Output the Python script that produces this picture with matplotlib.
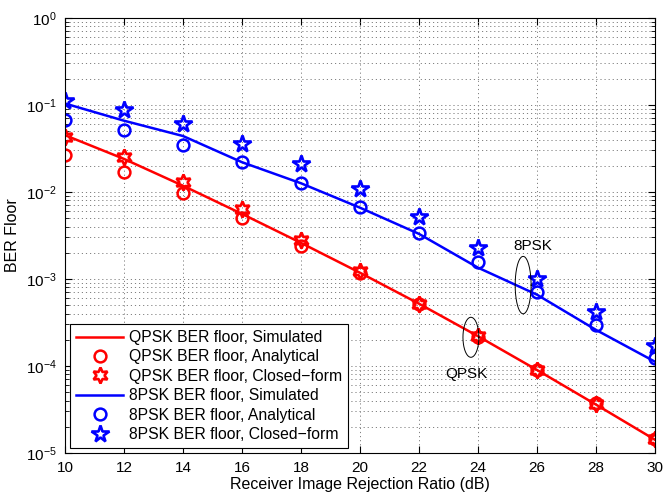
import numpy as np
import matplotlib
matplotlib.use('Agg')
import matplotlib.pyplot as plt
from matplotlib.ticker import LogLocator, NullFormatter

plt.rcParams['font.family'] = ['Liberation Sans', 'DejaVu Sans']

irr = [10, 12, 14, 16, 18, 20, 22, 24, 26, 28, 30]  # dB

qpsk_sim = [0.045, 0.024, 0.0118, 0.0056, 0.0026, 0.00118, 0.00052, 0.00022, 9.0e-5, 3.6e-5, 1.42e-5]
qpsk_ana = [0.0265, 0.017, 0.0098, 0.0050, 0.0024, 0.00118, 0.00051, 0.000215, 8.9e-5, 3.8e-5, 1.43e-5]
qpsk_cf = [0.043, 0.025, 0.013, 0.0063, 0.0028, 0.00122, 0.00051, 0.00022, 9.0e-5, 3.7e-5, 1.45e-5]

psk8_sim = [0.104, 0.066, 0.044, 0.022, 0.0126, 0.0066, 0.0033, 0.00135, 0.00066, 0.00026, 0.000112]
psk8_ana = [0.068, 0.051, 0.035, 0.022, 0.0126, 0.0068, 0.0034, 0.00158, 0.0007, 0.000295, 0.000123]
psk8_cf = [0.112, 0.087, 0.060, 0.036, 0.021, 0.0107, 0.0052, 0.0023, 0.0010, 0.00042, 0.00017]

hexagram = (6, 1, 0)

fig = plt.figure(figsize=(6.69, 4.95), dpi=100)
ax = fig.add_axes([65 / 669, 1 - 453 / 495, 590 / 669, 435 / 495])

ax.semilogy(irr, qpsk_sim, '-', color='red', lw=1.8, label='QPSK BER floor, Simulated')
ax.semilogy(irr, qpsk_ana, 'o', color='red', mfc='none', mew=1.8, ms=8.5, label='QPSK BER floor, Analytical')
ax.semilogy(irr, qpsk_cf, marker=hexagram, ls='none', color='red', mfc='none', mew=1.9, ms=11.5,
            label='QPSK BER floor, Closed\u2212form')
ax.semilogy(irr, psk8_sim, '-', color='blue', lw=1.8, label='8PSK BER floor, Simulated')
ax.semilogy(irr, psk8_ana, 'o', color='blue', mfc='none', mew=1.8, ms=8.5, label='8PSK BER floor, Analytical')
ax.semilogy(irr, psk8_cf, '*', color='blue', mfc='none', mew=1.9, ms=13,
            label='8PSK BER floor, Closed\u2212form')

# ellipses marking the two groups (drawn in log space)
t = np.linspace(0, 2 * np.pi, 200)
ax.plot(25.53 + 0.27 * np.cos(t), 10 ** (-3.07 + 0.33 * np.sin(t)), color='black', lw=0.7)
ax.plot(23.76 + 0.27 * np.cos(t), 10 ** (-3.67 + 0.23 * np.sin(t)), color='black', lw=0.7)
ax.text(25.86, 10 ** -2.62, '8PSK', ha='center', va='center', fontsize=11)
ax.text(23.6, 10 ** -4.09, 'QPSK', ha='center', va='center', fontsize=11)

ax.set_xlim(10, 30)
ax.set_ylim(1e-5, 1)
ax.set_xticks(range(10, 31, 2))
ax.yaxis.set_major_locator(LogLocator(base=10, numticks=10))
ax.yaxis.set_minor_locator(LogLocator(base=10, subs=np.arange(2, 10), numticks=20))
ax.yaxis.set_minor_formatter(NullFormatter())
ax.tick_params(which='both', direction='in', top=True, right=True, labelsize=11)
ax.tick_params(which='major', length=5, pad=6)
ax.tick_params(which='minor', length=3)
ax.grid(True, which='major', ls=(0, (1.2, 3)), color='0.5', lw=0.7)
ax.grid(True, which='minor', axis='y', ls=(0, (1.2, 3)), color='0.5', lw=0.7)

ax.set_xlabel('Receiver Image Rejection Ratio (dB)', fontsize=11.5, labelpad=1)
ax.set_ylabel('BER Floor', fontsize=11.5, labelpad=4)

leg = ax.legend(loc='lower left', fontsize=11.3, fancybox=False, edgecolor='black',
                framealpha=1, borderaxespad=0.3, labelspacing=0.28, handlelength=3.0,
                handletextpad=0.35, borderpad=0.4, bbox_to_anchor=(0.0, 0.0))
leg.get_frame().set_linewidth(0.8)

fig.savefig('out.png', dpi=100)
